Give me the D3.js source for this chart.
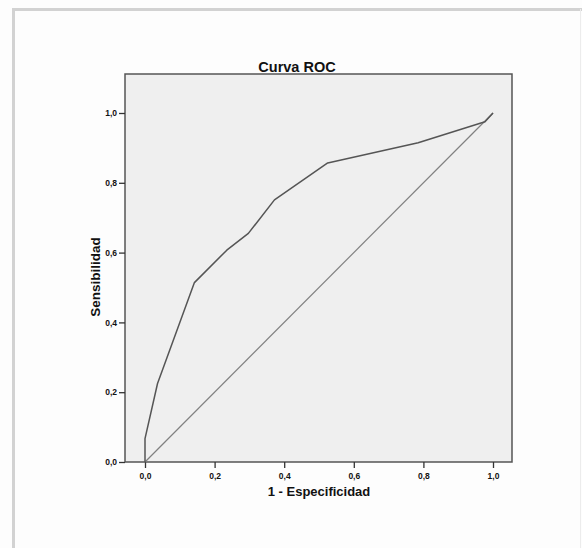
<!DOCTYPE html>
<meta charset="utf-8">
<head>
<style>
body { margin: 0; background: #fdfdfd; }
text { font-family: "Liberation Sans", Arial, sans-serif; font-weight: bold; fill: #111; }
.tick text { font-size: 8.5px; }
.tick line { stroke: #333; stroke-width: 1.3px; }
.domain { display: none; }
</style>
</head>
<body>
<script src="https://d3js.org/d3.v7.min.js"></script>
<script>

// ROC curve points (1 - especificidad, sensibilidad)
var fpr  = [0.000, 0.000, 0.036, 0.142, 0.235, 0.297, 0.372, 0.525, 0.785, 0.977, 1.000];
var sens = [0.000, 0.067, 0.225, 0.514, 0.607, 0.655, 0.751, 0.857, 0.915, 0.975, 1.000];
var diagonal = [0, 1];
var ticks = [0, 0.2, 0.4, 0.6, 0.8, 1.0];

var W = 582, H = 548;
var plot = {left: 125, top: 74, right: 512, bottom: 462};

var x = d3.scaleLinear().domain([0, 1]).range([145, 493]);
var y = d3.scaleLinear().domain([0, 1]).range([462, 113]);
var fmt = function(d) { return d3.format(".1f")(d).replace(".", ","); };

var svg = d3.select("body").append("svg")
    .attr("width", W)
    .attr("height", H);

// outer frame (left and top edges, faint right edge)
svg.append("line").attr("x1", 13.5).attr("x2", 13.5).attr("y1", 9).attr("y2", H)
    .attr("stroke", "#d2d2d2").attr("stroke-width", 3);
svg.append("line").attr("x1", 12).attr("x2", W).attr("y1", 9.5).attr("y2", 9.5)
    .attr("stroke", "#d2d2d2").attr("stroke-width", 3);
svg.append("line").attr("x1", 580.5).attr("x2", 580.5).attr("y1", 9).attr("y2", H)
    .attr("stroke", "#ececec").attr("stroke-width", 1);

// plot area
svg.append("rect")
    .attr("x", plot.left).attr("y", plot.top)
    .attr("width", plot.right - plot.left)
    .attr("height", plot.bottom - plot.top)
    .attr("fill", "#efefef")
    .attr("stroke", "#555")
    .attr("stroke-width", 1.5);

// axes
svg.append("g")
    .attr("transform", "translate(0," + plot.bottom + ")")
    .call(d3.axisBottom(x).tickValues(ticks).tickFormat(fmt).tickSize(6).tickPadding(5));

svg.append("g")
    .attr("transform", "translate(" + plot.left + ",0)")
    .call(d3.axisLeft(y).tickValues(ticks).tickFormat(fmt).tickSize(6).tickPadding(2));

// reference diagonal
svg.append("path")
    .datum(diagonal)
    .attr("fill", "none")
    .attr("stroke", "#808080")
    .attr("stroke-width", 1.2)
    .attr("d", d3.line().x(function(d) { return x(d); }).y(function(d) { return y(d); }));

// roc curve
svg.append("path")
    .datum(d3.range(fpr.length))
    .attr("fill", "none")
    .attr("stroke", "#555")
    .attr("stroke-width", 1.5)
    .attr("stroke-linejoin", "round")
    .attr("d", d3.line().x(function(i) { return x(fpr[i]); }).y(function(i) { return y(sens[i]); }));

// titles
svg.append("text")
    .attr("x", 297).attr("y", 72)
    .attr("text-anchor", "middle")
    .style("font-size", "14.5px")
    .text("Curva ROC");

svg.append("text")
    .attr("x", 319).attr("y", 496)
    .attr("text-anchor", "middle")
    .style("font-size", "13px")
    .text("1 - Especificidad");

svg.append("text")
    .attr("transform", "translate(100,277) rotate(-90)")
    .attr("text-anchor", "middle")
    .style("font-size", "13.5px")
    .text("Sensibilidad");

</script>
</body>
